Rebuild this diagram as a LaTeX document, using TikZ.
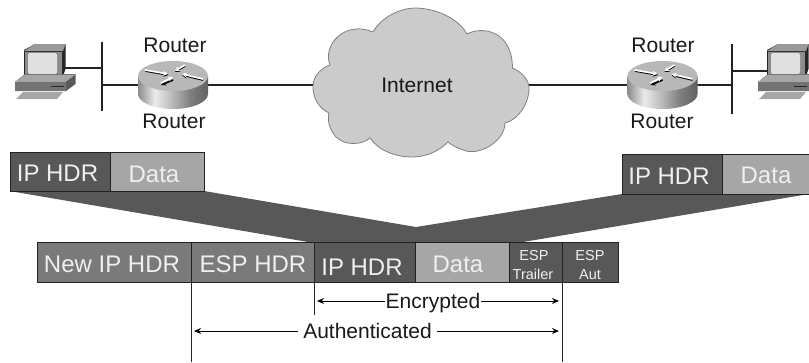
\documentclass[tikz,border=0pt]{standalone}
\usepackage{fontspec}
\setmainfont{Liberation Sans}
\usetikzlibrary{arrows.meta}
\definecolor{dk}{HTML}{585858}
\definecolor{md}{HTML}{7A7A7A}
\definecolor{lt}{HTML}{A6A6A6}
\definecolor{cl}{HTML}{CBCBCB}
\definecolor{tw}{HTML}{EFEFEF}
\definecolor{ln}{HTML}{222222}
\pgfdeclarehorizontalshading{routerbody}{100bp}{color(0bp)=(black!45);color(25bp)=(black!45);color(37bp)=(black!8);color(48bp)=(black!25);color(62bp)=(black!50);color(75bp)=(black!62);color(100bp)=(black!62)}
\tikzset{
  x=1pt,y=-1pt,
  pktbox/.style={draw=ln,line width=1pt,inner sep=0pt,anchor=north west},
  wtext/.style={text=tw,anchor=base,inner sep=0pt,font=\fontsize{24}{24}\selectfont},
  stext/.style={text=tw,anchor=base,inner sep=0pt,font=\fontsize{14.5}{15}\selectfont},
  ktext/.style={text=black!90,anchor=base,inner sep=0pt,font=\fontsize{21}{21}\selectfont},
  wire/.style={draw=ln,line width=2pt},
  thin line/.style={draw=black!85,line width=1pt},
  dimarrow/.style={draw=black,line width=1pt,shorten >=3pt,-{Stealth[length=7pt,width=6pt]}},
  slot/.style={minimum width=70pt,minimum height=46pt,inner sep=0pt,outer sep=0pt},
  rarrow/.style={line width=1.7pt,-{Stealth[length=5pt,width=5pt]}},
  pcpic/.pic={
    \fill[black!85] (24,50) -- (24,79) -- (62,79) -- (65.5,69) -- (65.5,44) -- (35,44) -- cycle;
    \fill[black!40] (24,51) -- (35,44) -- (65.5,44) -- (63,51) -- cycle;
    \fill[black!45] (25,52) rectangle (62,77);
    \fill[black!12,rounded corners=2pt] (28,53) rectangle (57,74);
    \fill[black!65] (15,82) -- (25,74) -- (75.5,74) -- (75.5,84) -- (66,91) -- (15,91) -- cycle;
    \fill[black!35] (15,82) -- (25,74.5) -- (75.5,74.5) -- (65.5,82) -- cycle;
    \fill[black!55] (15,82) rectangle (66,91);
    \fill[black!85] (51,86) rectangle (64,87.3);
    \fill[black!35] (16,99) -- (23,92) -- (63,92) -- (57,99) -- cycle;
  },
  routerpic/.pic={
    \shade[shading=routerbody] (-35,-9) -- (-35,9) .. controls (-35,17.3) and (-19.3,24) .. (0,24) .. controls (19.3,24) and (35,17.3) .. (35,9) -- (35,-9) -- cycle;
    \fill[black!28] (-35,-9) .. controls (-35,-17.3) and (-19.3,-24) .. (0,-24) .. controls (19.3,-24) and (35,-17.3) .. (35,-9) .. controls (35,-0.7) and (19.3,6) .. (0,6) .. controls (-19.3,6) and (-35,-0.7) .. (-35,-9) -- cycle;
    \draw[black,rarrow] (-27.5,-14) -- (-4.5,-10);
    \draw[white,rarrow] (-28,-15) -- (-5,-11);
    \draw[black,rarrow] (12,-19) -- (2,-13);
    \draw[white,rarrow] (12,-20) -- (2,-14);
    \draw[black,rarrow] (30,-5) -- (9,-10);
    \draw[white,rarrow] (30,-6) -- (9,-11);
    \draw[black,rarrow] (0,-5) -- (-12,0);
    \draw[white,rarrow] (-12,-2) -- (0,-8);
  }
}
\begin{document}
\begin{tikzpicture}
\useasboundingbox (0,0) rectangle (809,362);
% anchors
\node[slot] (r1) at (173,85) {};
\node[slot] (r2) at (662.5,85) {};
\node[minimum width=216pt,minimum height=149pt,inner sep=0pt,outer sep=0pt] (cloud) at (421,85) {};
\coordinate (b1t) at (101.5,42);
\coordinate (b1b) at (101.5,111);
\coordinate (b2t) at (732,44);
\coordinate (b2b) at (732,114);
\coordinate (pc1) at (65,68);
\coordinate (pc2) at (768,71);
% network wires
\draw[wire] (b1t) -- (b1b);
\draw[wire] (b2t) -- (b2b);
\draw[wire] (pc1) -- (pc1 -| b1t);
\draw[wire] (pc2) -- (pc2 -| b2t);
\draw[wire] (r1.center -| b1t) -- (r1.center);
\draw[wire] (r1.center) -- (cloud.center);
\draw[wire] (cloud.center) -- (r2.center);
\draw[wire] (r2.center) -- (r2.center -| b2t);
% cloud
\fill[cl,draw=black!50,line width=.8pt]
 (373,32) .. controls (382,16) and (402,8) .. (415,8)
 .. controls (435,8) and (458,18) .. (467,34)
 .. controls (482,26) and (512,30) .. (512.5,68)
 .. controls (522,72) and (529,80) .. (529,88)
 .. controls (529,104) and (518,120) .. (505,123)
 .. controls (505,140) and (482,155) .. (466,151)
 .. controls (460,149) and (452,146) .. (448,142)
 .. controls (438,152) and (425,157) .. (412,157)
 .. controls (395,157) and (378,150) .. (370,138)
 .. controls (362,145) and (345,146) .. (336,137)
 .. controls (330,130) and (327,122) .. (329,113)
 .. controls (318,108) and (313,97) .. (313,87)
 .. controls (313,76) and (321,68) .. (330,65)
 .. controls (322,45) and (345,20) .. (373,32) -- cycle;
\node[ktext] (inet) at (417,92) {Internet};
% computers
\pic at (0,0) {pcpic};
\pic at (743,0) {pcpic};
% routers
\pic at (r1.center) {routerpic};
\pic at (r2.center) {routerpic};
\node[ktext] (r1a) at (175,52) {Router};
\node[ktext] (r1b) at (174,128) {Router};
\node[ktext] (r2a) at (663,52) {Router};
\node[ktext] (r2b) at (662,128) {Router};
% funnel
\fill[dk] (9.5,191) -- (314,243) -- (517,243) -- (809,194) -- (622,194) -- (416,227) -- (204,191) -- cycle;
% packets
\node[pktbox,fill=dk,minimum width=100.5pt,minimum height=39.5pt] (p1) at (9.5,151.5) {};
\node[pktbox,fill=lt,minimum width=94pt,minimum height=39.5pt] (p2) at (110,151.5) {};
\node[pktbox,fill=dk,minimum width=100pt,minimum height=39.5pt] (q1) at (622,154) {};
\node[pktbox,fill=lt,minimum width=92pt,minimum height=39.5pt] (q2) at (722,154) {};
\node[pktbox,fill=md,minimum width=154pt,minimum height=40pt] (m1) at (37,242) {};
\node[pktbox,fill=md,minimum width=123pt,minimum height=40pt] (m2) at (191,242) {};
\node[pktbox,fill=dk,minimum width=101pt,minimum height=40pt] (m3) at (314,242) {};
\node[pktbox,fill=lt,minimum width=94pt,minimum height=40pt] (m4) at (415,242) {};
\node[pktbox,fill=dk,minimum width=53pt,minimum height=40pt] (m5) at (509,242) {};
\node[pktbox,fill=dk,minimum width=56pt,minimum height=40pt] (m6) at (562,242) {};
\node[wtext] (t1) at (57.5,181) {IP HDR};
\node[wtext] (t2) at (154,182) {Data};
\node[wtext] (t3) at (669,184) {IP HDR};
\node[wtext] (t4) at (766,183) {Data};
\node[wtext] (t5) at (112,272) {New IP HDR};
\node[wtext] (t6) at (253,272) {ESP HDR};
\node[wtext] (t7) at (362,275) {IP HDR};
\node[wtext] (t8) at (458,272) {Data};
\node[stext] (t9) at (534,260) {ESP};
\node[stext] (t10) at (533,279) {Trailer};
\node[stext] (t11) at (590,260) {ESP};
\node[stext] (t12) at (590,279) {Aut};
% extents
\coordinate (e1) at (314,315);
\coordinate (e2) at (191,362);
\coordinate (e3) at (562,362);
\draw[thin line] (m3.south west) -- (e1);
\draw[thin line] (m2.south west) -- (e2);
\draw[thin line] (m6.south west) -- (e3);
\node[ktext] (enc) at (433,308) {Encrypted};
\node[ktext] (aut) at (367.5,338) {Authenticated};
\coordinate (ey) at (0,301);
\coordinate (ay) at (0,331);
\draw[dimarrow] ([xshift=-1pt]enc.west |- ey) -- (e1 |- ey);
\draw[dimarrow] ([xshift=1pt]enc.east |- ey) -- (e3 |- ey);
\draw[dimarrow] ([xshift=-5pt]aut.west |- ay) -- (e2 |- ay);
\draw[dimarrow] ([xshift=5pt]aut.east |- ay) -- (e3 |- ay);
\end{tikzpicture}
\end{document}
